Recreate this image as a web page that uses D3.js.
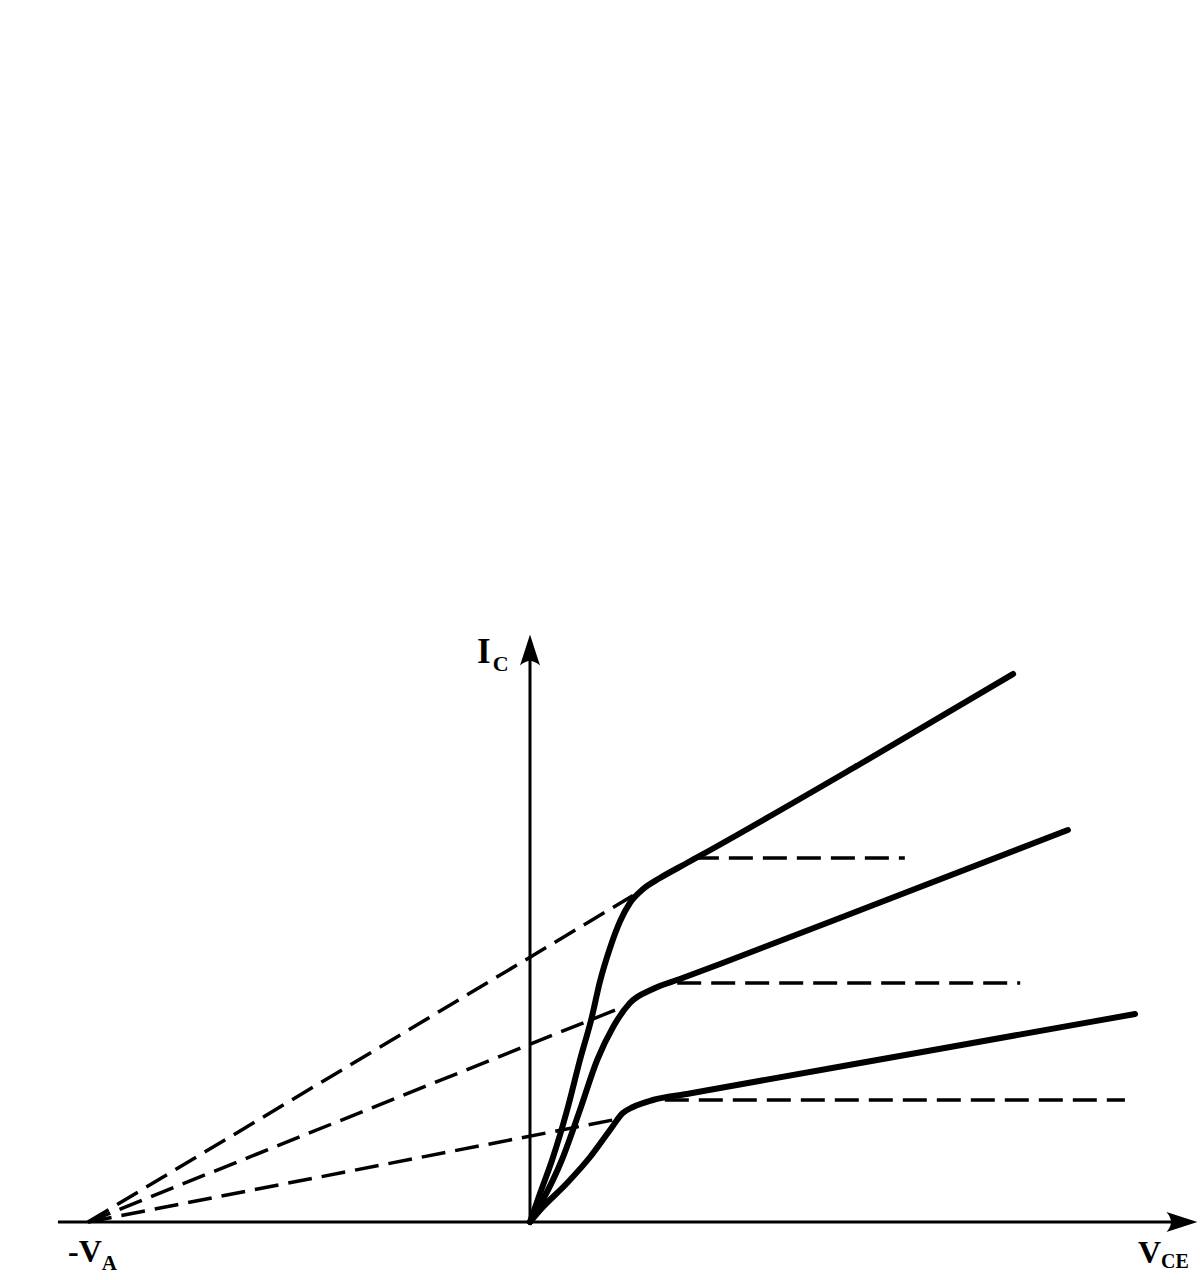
<!DOCTYPE html>
<html>
<head>
<meta charset="utf-8">
<script src="https://cdn.jsdelivr.net/npm/d3@7"></script>
<style>
	body { margin: 0; background: #fff; }
	svg { display: block; }
	.lbl { font-family: "Liberation Serif", "DejaVu Serif", serif; font-weight: bold; fill: #000; }
</style>
</head>
<body>
<div id="chart"></div>
<script>
// Early voltage (in V) and axis extents
var earlyVoltage = 10;
var vceRange = [-10.68, 15.1];
var icMax = 11.75;

// output characteristics, [VCE, IC]
var curveHigh = [[0, 0], [0.23, 0.58], [0.5, 1.24], [0.84, 2.24], [1.13, 3.24], [1.4, 4.1], [1.58, 4.8],
	[1.81, 5.48], [2.04, 6.02], [2.26, 6.38], [2.56, 6.66], [2.94, 6.88], [3.51, 7.16], [4.0, 7.4],
	[7.47, 9.16], [10.93, 10.96]];
var curveMid = [[0, 0], [0.29, 0.44], [0.72, 1.24], [1.13, 2.24], [1.52, 3.24], [1.88, 3.9], [2.26, 4.38],
	[2.78, 4.66], [3.39, 4.86], [4.3, 5.16], [8.24, 6.5], [12.17, 7.84]];
var curveLow = [[0, 0], [0.23, 0.24], [0.84, 0.78], [1.36, 1.3], [1.81, 1.84], [2.1, 2.18], [2.33, 2.3],
	[2.78, 2.44], [3.55, 2.56], [4.3, 2.68], [9.0, 3.42], [13.69, 4.16]];

// extrapolation back to -VA: [VCE at end, IC at end]
var extrapEnds = [[2.33, 6.53], [2.04, 4.28], [1.99, 2.06]];

// ideal (no Early effect) levels: [IC, VCE start, VCE end]
var flatLines = [[7.28, 3.73, 8.48], [4.78, 3.33, 11.09], [2.44, 3.05, 13.46]];

var width = 1200, height = 1280;

var svg = d3.select("#chart").append("svg")
	.attr("width", width)
	.attr("height", height);

var x = d3.scaleLinear().domain([-earlyVoltage, 15]).range([88, 1193]);
var y = d3.scaleLinear().domain([0, 12]).range([1222, 622]);

var line = d3.line()
	.x(function(d) { return x(d[0]); })
	.y(function(d) { return y(d[1]); })
	.curve(d3.curveMonotoneX);

// axes
var x0 = x(0), y0 = y(0);
svg.append("line")
	.attr("x1", x(vceRange[0])).attr("y1", y0)
	.attr("x2", x(vceRange[1]) - 10).attr("y2", y0)
	.attr("stroke", "#000").attr("stroke-width", 3);
svg.append("line")
	.attr("x1", x0).attr("y1", y0)
	.attr("x2", x0).attr("y2", y(icMax) + 10)
	.attr("stroke", "#000").attr("stroke-width", 3);

// arrow heads (notched)
var tx = x(vceRange[1]);
svg.append("path")
	.attr("d", "M" + tx + "," + y0 + " L" + (tx - 31) + "," + (y0 - 10) + " Q" + (tx - 22) + "," + y0 + " " + (tx - 31) + "," + (y0 + 10) + " Z")
	.attr("fill", "#000");
var ty = y(icMax);
svg.append("path")
	.attr("d", "M" + x0 + "," + ty + " L" + (x0 - 10) + "," + (ty + 31) + " Q" + x0 + "," + (ty + 22) + " " + (x0 + 10) + "," + (ty + 31) + " Z")
	.attr("fill", "#000");

// dashed extrapolations to -VA
svg.append("g").selectAll("line")
	.data(extrapEnds)
	.enter().append("line")
		.attr("x1", x(-earlyVoltage)).attr("y1", y(0))
		.attr("x2", function(d) { return x(d[0]); })
		.attr("y2", function(d) { return y(d[1]); })
		.attr("stroke", "#000")
		.attr("stroke-width", 3.5)
		.attr("stroke-dasharray", "24,10");

// dashed flat lines
svg.append("g").selectAll("line")
	.data(flatLines)
	.enter().append("line")
		.attr("x1", function(d) { return x(d[1]); })
		.attr("x2", function(d) { return x(d[2]); })
		.attr("y1", function(d) { return y(d[0]); })
		.attr("y2", function(d) { return y(d[0]); })
		.attr("stroke", "#000")
		.attr("stroke-width", 3.5)
		.attr("stroke-dasharray", "24,10");

// the characteristics
svg.append("g").selectAll("path")
	.data([curveHigh, curveMid, curveLow])
	.enter().append("path")
		.attr("d", line)
		.attr("fill", "none")
		.attr("stroke", "#000")
		.attr("stroke-width", 6)
		.attr("stroke-linecap", "round")
		.attr("stroke-linejoin", "round");

// labels
var ic = svg.append("text").attr("class", "lbl").attr("x", 477).attr("y", 663).style("font-size", "35px");
ic.append("tspan").text("I");
ic.append("tspan").attr("dx", 2).attr("dy", 8).style("font-size", "22px").text("C");

var va = svg.append("text").attr("class", "lbl").attr("x", 68).attr("y", 1262).style("font-size", "32px");
va.append("tspan").text("-V");
va.append("tspan").attr("dy", 8).style("font-size", "21px").text("A");

var vce = svg.append("text").attr("class", "lbl").attr("x", 1138).attr("y", 1263).style("font-size", "32px");
vce.append("tspan").text("V");
vce.append("tspan").attr("dy", 5).style("font-size", "20px").text("CE");
</script>
</body>
</html>
